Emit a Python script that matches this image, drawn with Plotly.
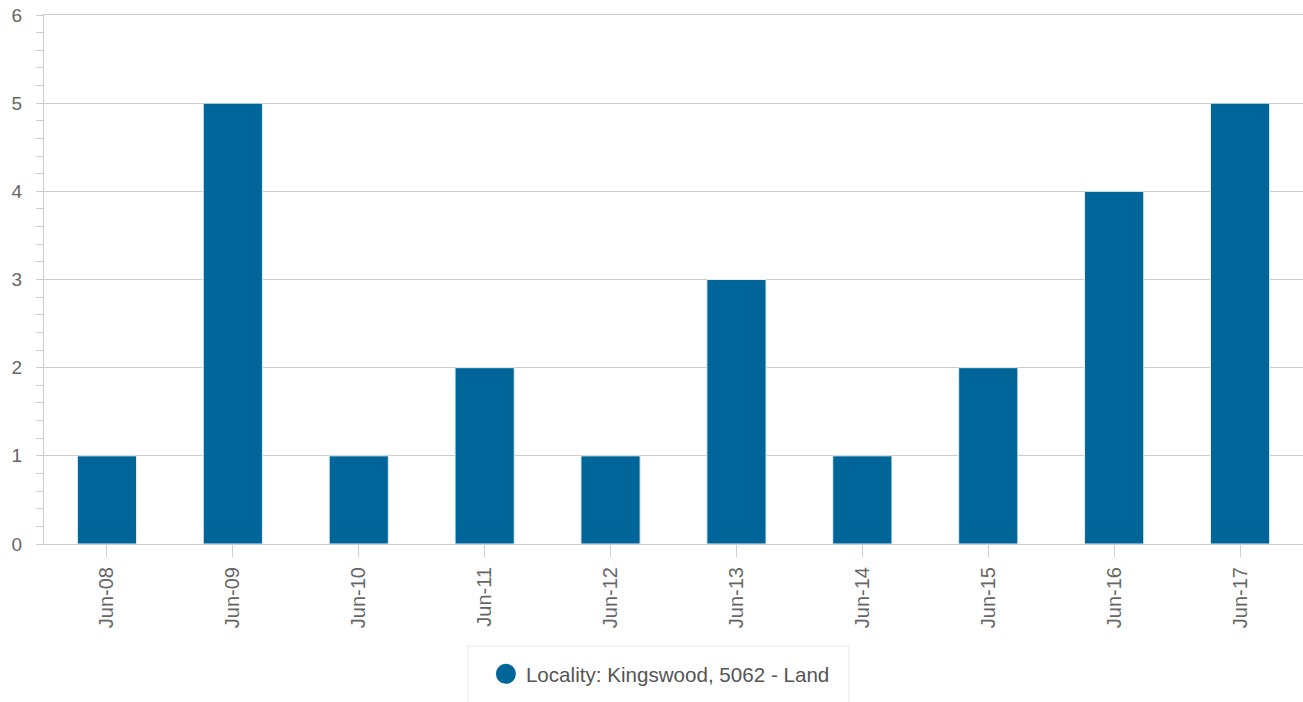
import plotly.graph_objects as go

categories = ["Jun-08", "Jun-09", "Jun-10", "Jun-11", "Jun-12",
              "Jun-13", "Jun-14", "Jun-15", "Jun-16", "Jun-17"]
values = [1, 5, 1, 2, 1, 3, 1, 2, 4, 5]
series_name = "Locality: Kingswood, 5062 - Land"
bar_color = "#006699"

fig = go.Figure()
fig.add_trace(go.Bar(
    x=categories, y=values, name=series_name,
    marker=dict(color=bar_color, line=dict(color="#e6eef4", width=1)),
    width=0.47, showlegend=False,
))
fig.add_trace(go.Scatter(
    x=[None], y=[None], mode="markers", name=series_name,
    marker=dict(color=bar_color, size=16, symbol="circle",
                line=dict(color=bar_color, width=4)),
    showlegend=True,
))

# legend frame (drawn as a paper-referenced rectangle in the bottom margin)
fig.add_shape(
    type="rect", xref="paper", yref="paper",
    x0=0.3368, x1=0.6394, y0=-0.1928, y1=-0.31,
    line=dict(color="#e8e8e8", width=1), fillcolor="white", layer="below",
)

fig.update_layout(
    width=1303, height=702,
    margin=dict(l=44, r=0, t=15, b=158),
    plot_bgcolor="white", paper_bgcolor="white",
    font=dict(family="Liberation Sans, Arial, sans-serif", color="#666666"),
    showlegend=True,
    legend=dict(
        orientation="h", x=0.351, xanchor="left", y=-0.2457, yanchor="middle",
        borderwidth=0, bgcolor="rgba(0,0,0,0)",
        font=dict(size=20.6, color="#555555"),
        itemsizing="trace",
    ),
    bargap=0.53,
)
fig.update_xaxes(
    type="category", tickangle=-90, automargin=False,
    showline=True, linecolor="#cccccc", linewidth=1, mirror=True,
    ticks="outside", ticklen=12, tickcolor="#c8d0e0",
    tickfont=dict(size=20, color="#666666"),
    ticklabelstandoff=2,
    showgrid=False, zeroline=False,
)
fig.update_yaxes(
    range=[0, 6], dtick=1, tick0=0, automargin=False,
    showline=True, linecolor="#cccccc", linewidth=1,
    ticks="outside", ticklen=7, tickcolor="#cccccc",
    showgrid=True, gridcolor="#cccccc", gridwidth=1,
    zeroline=False,
    minor=dict(dtick=0.2, ticks="outside", ticklen=7, tickcolor="#cccccc", showgrid=False),
    tickfont=dict(size=19, color="#666666"),
    ticklabelstandoff=10,
    ticklabeloverflow="allow",
)

fig.write_html(
    "out.html",
    config={"displayModeBar": False},
    post_script="document.body.style.margin='0';document.body.style.overflow='hidden';",
)
